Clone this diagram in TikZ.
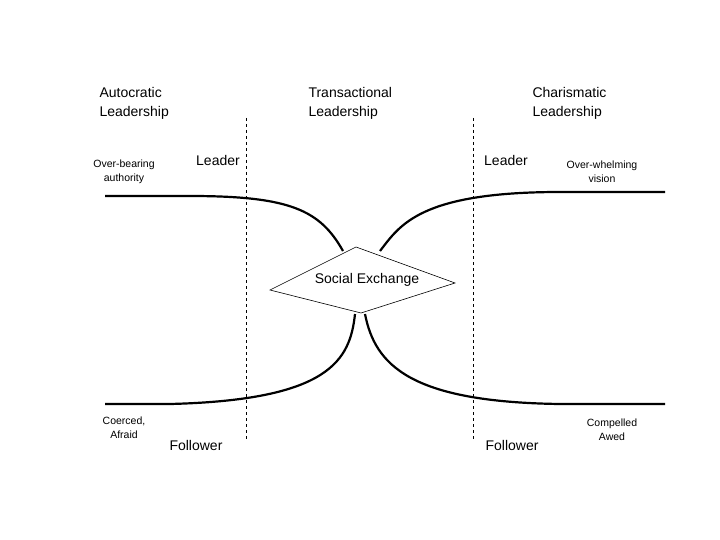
\documentclass[tikz,border=0pt]{standalone}
\usepackage{fontspec}
\setmainfont{Liberation Sans}
\begin{document}
\begin{tikzpicture}[x=1pt,y=-1pt,
  big/.style={font=\fontsize{14}{19}\selectfont,align=left},
  small/.style={font=\fontsize{10.5}{14}\selectfont,align=center},
  flow/.style={line width=2.2pt},
  sep/.style={dashed,line width=0.6pt}]
\useasboundingbox[fill=white] (0,0) rectangle (720,540);
\node[big,anchor=north west] (auto) at (96,84) {Autocratic\\Leadership};
\node[big,anchor=north west] (trans) at (305,84) {Transactional\\Leadership};
\node[big,anchor=north west] (char) at (529,84) {Charismatic\\Leadership};
\node[small] (ob) at (124,172) {Over-bearing\\authority};
\node[big] (l1) at (218,160) {Leader};
\node[big] (l2) at (506,160) {Leader};
\node[small] (ow) at (602,172) {Over-whelming\\vision};
\node[small] (co) at (124,428) {Coerced,\\Afraid};
\node[big] (f1) at (196,445) {Follower};
\node[big] (f2) at (512,445) {Follower};
\node[small] (cp) at (612,430) {Compelled\\Awed};
\coordinate (d1t) at (246,118); \coordinate (d1b) at (246,440);
\coordinate (d2t) at (473,118); \coordinate (d2b) at (473,440);
\draw[sep] (d1t) -- (d1b);
\draw[sep] (d2t) -- (d2b);
\coordinate (dt) at (356,247); \coordinate (dl) at (270,290);
\coordinate (db) at (361,313); \coordinate (dr) at (455,283);
\draw[line width=0.6pt,fill=white] (dt) -- (dr) -- (db) -- (dl) -- cycle;
\node[big] (se) at (367,280) {Social Exchange};
\coordinate (a1) at (105,196); \coordinate (a2) at (343,251);
\draw[flow] (a1) -- (190,196) .. controls (290,196) and (320,210) .. (a2);
\coordinate (b1) at (665,192); \coordinate (b2) at (380,251);
\draw[flow] (b1) -- (560,192) .. controls (420,192) and (400,225) .. (b2);
\coordinate (c1) at (105,404); \coordinate (c2) at (355,314);
\draw[flow] (c1) -- (170,404) .. controls (330,400) and (350,360) .. (c2);
\coordinate (e1) at (665,404); \coordinate (e2) at (365,314);
\draw[flow] (e1) -- (560,404) .. controls (410,402) and (375,365) .. (e2);
\end{tikzpicture}
\end{document}
